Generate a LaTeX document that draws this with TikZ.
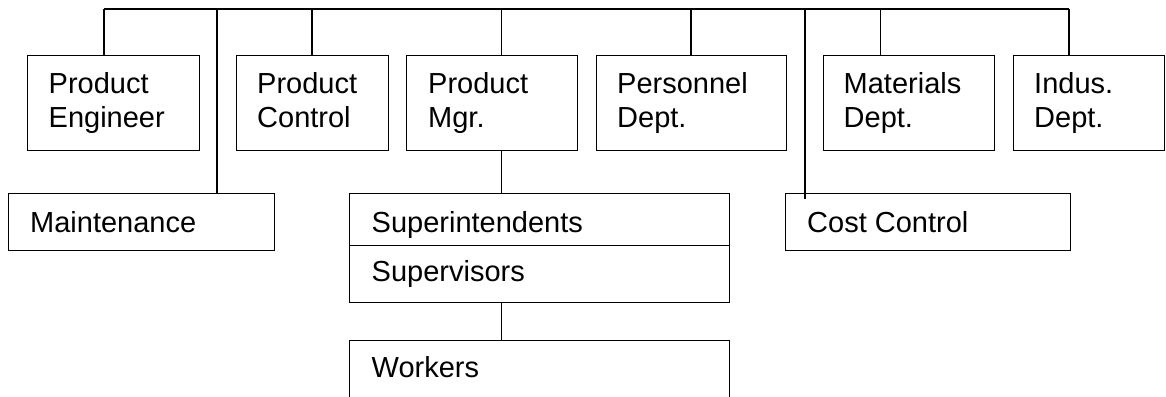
\documentclass[tikz,border=0pt]{standalone}
\usepackage{fontspec}
\setmainfont{Liberation Sans}
\begin{document}
\begin{tikzpicture}[x=1pt,y=-1pt,
  orgbox/.style={draw=black, line width=1.4pt, rectangle, inner sep=0pt, anchor=north west},
  link/.style={draw=black, line width=1.2pt},
  lbl/.style={anchor=base west, inner sep=0pt, font=\fontsize{29}{34}\selectfont}]
\clip (0,0) rectangle (1166,396);
\fill[white] (0,0) rectangle (1166,396);

% unit boxes: name, left, top, width, height
\newcommand{\unitbox}[5]{\node[orgbox, minimum width=#4pt, minimum height=#5pt] (#1) at (#2,#3) {};}
\newcommand{\twolines}[2]{\vtop{\hbox{#1}\hbox{#2}}}

% top row
\unitbox{pe}{27}{55}{172}{95}
\unitbox{pc}{236}{55}{152}{95}
\unitbox{pm}{406}{55}{171}{95}
\unitbox{pd}{596}{55}{190}{95}
\unitbox{md}{823}{55}{171}{95}
\unitbox{id}{1013}{55}{151}{95}
% second row
\unitbox{mt}{8}{193}{266}{57}
\unitbox{si}{349}{193}{380}{52}
\unitbox{sv}{349}{245}{380}{56.5}
\unitbox{cc}{785}{193}{285}{57}
% bottom
\unitbox{wk}{349}{339.5}{380}{60}

% labels
\node[lbl] (pe-t) at ([shift={(21.5,38)}]pe.north west) {\twolines{Product}{Engineer}};
\node[lbl] (pc-t) at ([shift={(21,38)}]pc.north west) {\twolines{Product}{Control}};
\node[lbl] (pm-t) at ([shift={(22,38)}]pm.north west) {\twolines{Product}{Mgr.}};
\node[lbl] (pd-t) at ([shift={(21,38)}]pd.north west) {\twolines{Personnel}{Dept.}};
\node[lbl] (md-t) at ([shift={(20.5,38)}]md.north west) {\twolines{Materials}{Dept.}};
\node[lbl] (id-t) at ([shift={(21,38)}]id.north west) {\twolines{Indus.}{Dept.}};
\node[lbl] (mt-t) at ([shift={(22,39)}]mt.north west) {Maintenance};
\node[lbl] (si-t) at ([shift={(22.5,39.5)}]si.north west) {Superintendents};
\node[lbl] (sv-t) at ([shift={(22.5,36.5)}]sv.north west) {Supervisors};
\node[lbl] (wk-t) at ([shift={(22.5,37.5)}]wk.north west) {Workers};
\node[lbl] (cc-t) at ([shift={(22,39)}]cc.north west) {Cost Control};

% bus line and drop points
\coordinate (busL) at (104,9);
\coordinate (busR) at (1069,9);
\coordinate (dpe) at (104,9);
\coordinate (dmt) at (217,9);
\coordinate (dpc) at (312,9);
\coordinate (dpm) at (501.5,9);
\coordinate (dpd) at (691,9);
\coordinate (dcc) at (805,9);
\coordinate (dmd) at (880.5,9);
\coordinate (did) at (1069,9);

\draw[link] (busL) -- (busR);
\draw[link] (dpe) -- (dpe |- pe.north);
\draw[link] (dmt) -- (dmt |- mt.north);
\draw[link] (dpc) -- (dpc |- pc.north);
\draw[link] (dpm) -- (dpm |- pm.north);
\draw[link] (dpd) -- (dpd |- pd.north);
\draw[link] (dcc) -- ([yshift=-6pt]dcc |- cc.north);
\draw[link] (dmd) -- (dmd |- md.north);
\draw[link] (did) -- (did |- id.north);

% line of command below the product manager
\draw[link] (dpm |- pm.south) -- (dpm |- si.north);
\draw[link] (dpm |- sv.south) -- (dpm |- wk.north);
\end{tikzpicture}
\end{document}
